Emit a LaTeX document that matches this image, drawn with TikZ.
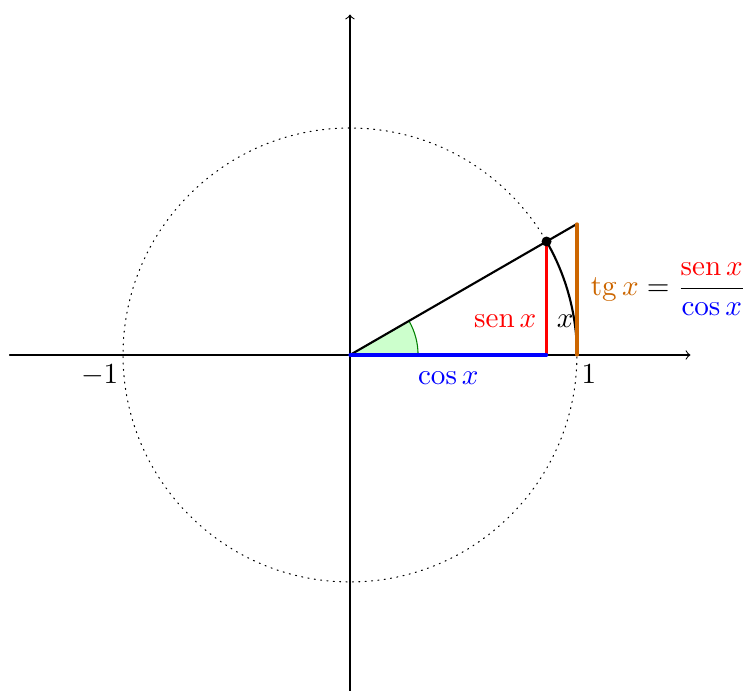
\documentclass[tikz,border=0pt,11pt]{standalone}
\begin{document}
\begin{tikzpicture}[scale=3,line cap=round,
  axis/.style={->},
  important line/.style={very thick},
  unit circle/.style={dotted},
  angle fill/.style={fill=green!20,draw=green!50!black},
  ticklabel/.style={inner xsep=1.6pt},
  dot/.style={fill=black}]
\colorlet{sincolor}{red}
\colorlet{tancolor}{orange!80!black}
\colorlet{coscolor}{blue}
\useasboundingbox (-1.542,-1.480) rectangle (1.736,1.564);
% coordinates
\coordinate (O) at (0,0);
\coordinate (xl) at (-1.5,0);
\coordinate (xr) at (1.5,0);
\coordinate (yb) at (0,-1.5);
\coordinate (yt) at (0,1.5);
\coordinate (P) at (30:1);
\coordinate (Q) at (0.8660254,0);
\coordinate (A) at (1,0);
\coordinate (B) at (-1,0);
\coordinate (T) at (1,0.5773503);
\coordinate (S) at (0.8660254,0.15);
% circle and axes
\draw[unit circle] (O) circle[radius=1];
\draw[axis] (xl) -- (xr);
\draw[axis] (yb) -- (yt);
\node[ticklabel,below left] (m1) at (B) {$-1$};
\node[ticklabel,below right] (p1) at (A) {$1$};
% angle
\filldraw[angle fill] (O) -- (0.3,0) arc[start angle=0,end angle=30,radius=0.3] -- cycle;
% lines
\draw[thick] (O) -- (T);
\draw[thick] (A) arc[start angle=0,end angle=30,radius=1];
\draw[important line,sincolor] (P) -- (Q);
\draw[important line,coscolor] (O) -- node[below=2pt] (cl) {$\cos x$} (Q);
\draw[important line,tancolor] (A) -- node[right=1pt] (tl) {$\displaystyle \mathrm{tg}\,x \color{black}= \frac{\color{red}\mathrm{sen}\,x}{\color{blue}\cos x}$} (T);
\node[left,text=sincolor] (sl) at (S) {$\mathrm{sen}\,x$};
\node[right] (xlab) at (S) {$x$};
\fill[dot] (P) circle[radius=0.022];
\end{tikzpicture}
\end{document}
